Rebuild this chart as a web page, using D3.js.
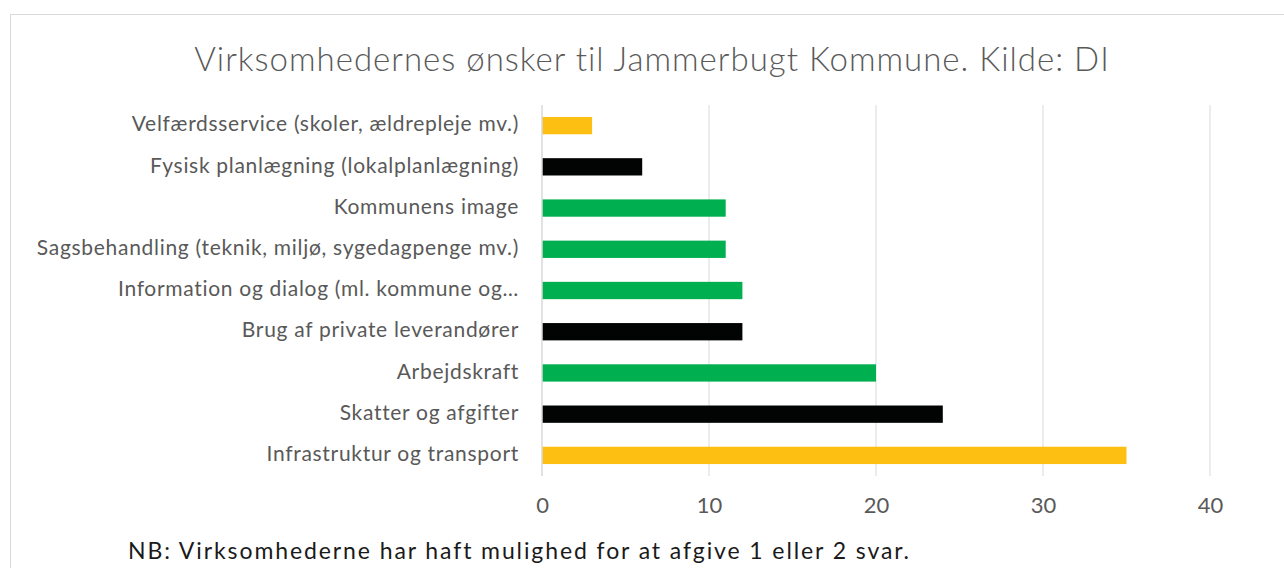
<!DOCTYPE html>
<html>
<head>
<meta charset="utf-8">
<script src="https://cdn.jsdelivr.net/npm/d3@7"></script>
<style>
  body { margin: 0; background: #fff; }
  text { font-family: Lato, "Open Sans", sans-serif; }
</style>
</head>
<body>
<script>
// data (top to bottom)
const categories = [
    "Velfærdsservice (skoler, ældrepleje mv.)",
    "Fysisk planlægning  (lokalplanlægning)",
    "Kommunens image",
    "Sagsbehandling (teknik, miljø, sygedagpenge mv.)",
    "Information og dialog (ml. kommune og…",
    "Brug af private leverandører",
    "Arbejdskraft",
    "Skatter og afgifter",
    "Infrastruktur og transport"
]
const values = [3, 6, 11, 11, 12, 12, 20, 24, 35]
const barColors = ["#fcbf12", "#020303", "#00b050", "#00b050", "#00b050", "#020303", "#00b050", "#020303", "#fcbf12"]
const ticks = [0, 10, 20, 30, 40]

const title = "Virksomhedernes ønsker til Jammerbugt Kommune. Kilde: DI"
const note = "NB: Virksomhederne har haft mulighed for at afgive 1 eller 2 svar."

let W = 1284, H = 568
let margin = { top: 105, right: 74, bottom: 92, left: 542 }

let svg = d3.select("body")
    .append("svg")
    .attr("width", W)
    .attr("height", H)

// chart frame
svg.append("rect")
    .attr("x", 10.5)
    .attr("y", 14.5)
    .attr("width", W)
    .attr("height", H)
    .attr("fill", "#fff")
    .attr("stroke", "#d9d9d9")

let x = d3.scaleLinear()
    .domain([0, 40])
    .range([margin.left, W - margin.right])

let y = d3.scaleBand()
    .domain(categories)
    .range([margin.top, H - margin.bottom])
    .paddingInner(0.58)
    .paddingOuter(0.29)

// gridlines
svg.selectAll(".grid")
    .data(ticks.slice(1))
    .enter().append("line")
    .attr("class", "grid")
    .attr("x1", d => x(d))
    .attr("x2", d => x(d))
    .attr("y1", margin.top)
    .attr("y2", H - margin.bottom)
    .attr("stroke", "#d9d9d9")
    .attr("stroke-width", 1)

// bars
svg.selectAll(".bar")
    .data(values)
    .enter().append("rect")
    .attr("class", "bar")
    .attr("x", x(0))
    .attr("y", (d, i) => y(categories[i]))
    .attr("width", d => x(d) - x(0))
    .attr("height", y.bandwidth())
    .attr("fill", (d, i) => barColors[i])

// vertical axis line
svg.append("line")
    .attr("x1", x(0))
    .attr("x2", x(0))
    .attr("y1", margin.top)
    .attr("y2", H - margin.bottom)
    .attr("stroke", "#d9d9d9")
    .attr("stroke-width", 1.5)

// category labels
svg.selectAll(".cat")
    .data(categories)
    .enter().append("text")
    .attr("class", "cat")
    .attr("x", x(0) - 23)
    .attr("y", d => y(d) + y.bandwidth() / 2)
    .attr("dy", "0.27em")
    .attr("text-anchor", "end")
    .attr("fill", "#595959")
    .style("font-size", "21px")
    .style("letter-spacing", "0.7px")
    .text(d => d)

// x axis
let xAxis = d3.axisBottom(x)
    .tickValues(ticks)
    .tickSize(0)
    .tickPadding(21)

let gx = svg.append("g")
    .attr("transform", "translate(0," + (H - margin.bottom) + ")")
    .call(xAxis)
gx.select(".domain").remove()
gx.selectAll("text")
    .attr("fill", "#595959")
    .style("font-size", "22px")
    .style("font-family", "Lato, sans-serif")

// title
svg.append("text")
    .attr("x", 652)
    .attr("y", 71)
    .attr("text-anchor", "middle")
    .attr("fill", "#595959")
    .style("font-size", "33px")
    .style("font-weight", 300)
    .style("letter-spacing", "1px")
    .text(title)

// note
svg.append("text")
    .attr("x", 128)
    .attr("y", 559)
    .attr("fill", "#1a1a1a")
    .style("font-size", "23px")
    .style("letter-spacing", "1.9px")
    .text(note)
</script>
</body>
</html>
